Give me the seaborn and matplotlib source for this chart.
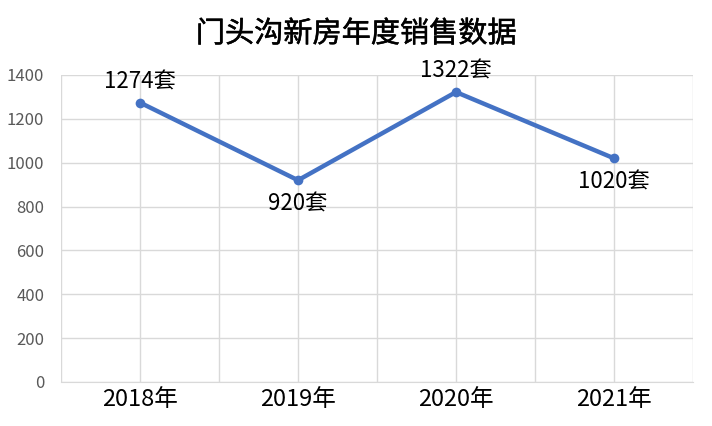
import pandas as pd
import seaborn as sns
import matplotlib.pyplot as plt
import matplotlib.patheffects as pe

# chart data
years = ['2018年', '2019年', '2020年', '2021年']
sales = [1274, 920, 1322, 1020]
label_pos = ['above', 'below', 'above', 'below']

df = pd.DataFrame({'年份': years, '销售套数': sales})

sns.set_style('white')
plt.rcParams['font.family'] = ['Noto Sans CJK SC', 'DejaVu Sans']

fig = plt.figure(figsize=(7.12, 4.26), dpi=100)
ax = fig.add_axes([0.0857, 0.1033, 0.8876, 0.7207])

sns.lineplot(data=df, x='年份', y='销售套数', ax=ax, color='#4472C4',
             linewidth=3.2, marker='o', markersize=7, markeredgewidth=0)

# data labels
for i, (v, pos) in enumerate(zip(sales, label_pos)):
    dy = 15 if pos == 'above' else -17
    ax.annotate(f'{v}套', (i, v), xytext=(0, dy), textcoords='offset points',
                ha='center', va='center', fontsize=16, color='black')

ax.set_xlim(-0.5, 3.5)
ax.set_ylim(0, 1400)
ax.set_yticks(range(0, 1401, 200))
ax.set_xticks(range(4))
ax.set_xticks([x + 0.5 for x in range(-1, 4)], minor=True)
ax.grid(True, which='both', color='#D9D9D9', linewidth=1)
ax.set_axisbelow(True)
ax.tick_params(axis='y', labelsize=12, labelcolor='#595959', length=0, pad=12)
ax.tick_params(axis='x', labelsize=17, labelcolor='black', length=0, pad=4)
ax.tick_params(which='minor', length=0)
ax.set_xlabel('')
ax.set_ylabel('')
for s in ['top', 'right', 'left']:
    ax.spines[s].set_visible(False)
ax.spines['bottom'].set_color('#D9D9D9')

# slightly heavier title
fig.suptitle('门头沟新房年度销售数据', y=0.955, fontsize=21, color='black',
             path_effects=[pe.withStroke(linewidth=0.35, foreground='black')])

fig.savefig('out.png', dpi=100)
